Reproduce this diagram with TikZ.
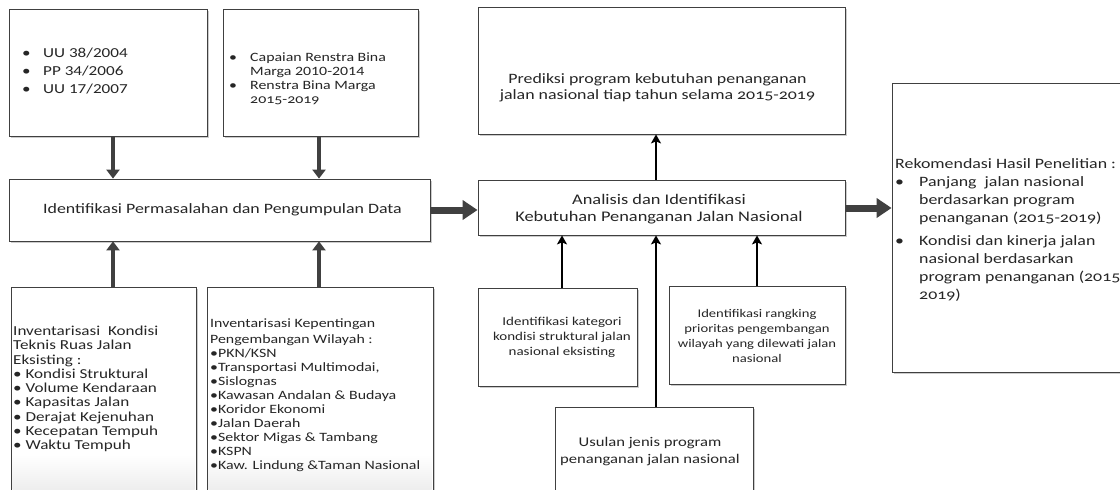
\documentclass[tikz,border=0pt]{standalone}
\usepackage{fontspec}
\setmainfont{Carlito}[FakeStretch=1.25]
\usetikzlibrary{arrows.meta,shadows}
\newcommand\fs[2]{\fontsize{#1}{#2}\selectfont}
\newcommand\osf[1]{{\addfontfeatures{Numbers=OldStyle}#1}}
\newcommand\bl[1]{\makebox[#1][l]{\textbullet}}
\tikzset{
  box/.style={draw=black!75, line width=0.8pt, fill=white, inner sep=0pt,
    drop shadow={shadow xshift=1.5pt, shadow yshift=-1.5pt, fill=black!20, opacity=1}},
  txt/.style={inner sep=0pt, text=black!85},
  garrow/.style={draw=black!75, line width=4pt, -{Triangle[width=13pt,length=9pt]}},
  bigarrow/.style={draw=black!75, line width=7pt, -{Triangle[width=19pt,length=15pt]}},
  barrow/.style={draw=black, line width=2.5pt, -{Stealth[width=10pt,length=9pt,inset=2pt]}},
}
\begin{document}
\begin{tikzpicture}[x=1pt,y=-1pt]
\useasboundingbox (0,0) rectangle (1120,490);
\clip (0,0) rectangle (1120,490);
\fill[white] (0,0) rectangle (1120,490);
% boxes
\node[box, minimum width=198pt, minimum height=127pt] (uu) at (108,72.5) {};
\node[box, minimum width=195pt, minimum height=127pt] (ren) at (320.5,72.5) {};
\node[box, minimum width=421pt, minimum height=62pt] (ident) at (219.5,210) {};
\node[box, minimum width=185pt, minimum height=210pt] (invk) at (103.5,392) {};
\node[box, minimum width=226pt, minimum height=216pt] (invw) at (320,395) {};
\node[box, minimum width=367pt, minimum height=127pt] (pred) at (661.5,70.5) {};
\node[box, minimum width=367pt, minimum height=55pt] (anal) at (661.5,207.5) {};
\node[box, minimum width=159pt, minimum height=98pt] (kat) at (557.5,337) {};
\node[box, minimum width=176pt, minimum height=98pt] (rang) at (757,335) {};
\node[box, minimum width=198pt, minimum height=100pt] (usul) at (654,457) {};
\node[box, minimum width=250pt, minimum height=289pt] (rek) at (1017,227.5) {};
% faint fades at bottom of lower-left boxes
\shade[top color=white, bottom color=black!7] (12.5,455) rectangle (194.5,490);
\shade[top color=white, bottom color=black!7] (208.5,455) rectangle (431.5,490);
% texts
\node[txt, anchor=west, align=left, font=\fs{13.7}{18}] (uut) at (22,71)
  {\bl{21pt}UU 38/2004\\\bl{21pt}PP 34/2006\\\bl{21pt}UU 17/2007};
\node[txt, anchor=west, align=left, font=\fs{12.7}{14.5}] (rent) at (229,79)
  {\bl{21pt}Capaian Renstra Bina\\\hspace*{21pt}Marga 2010-2014\\[-1pt]\bl{21pt}Renstra Bina Marga\\\hspace*{21pt}\osf{2015-2019}};
\node[txt, font=\fs{14.3}{17}] (identt) at (222.5,210) {Identifikasi Permasalahan dan Pengumpulan Data};
\node[txt, anchor=west, align=left, font=\fs{13.7}{14.3}] (invkt) at (13,389)
  {Inventarisasi\ \ Kondisi\\Teknis Ruas Jalan\\Eksisting :\\\textbullet\ Kondisi Struktural\\\textbullet\ Volume Kendaraan\\\textbullet\ Kapasitas Jalan\\\textbullet\ Derajat Kejenuhan\\\textbullet\ Kecepatan Tempuh\\\textbullet\ Waktu Tempuh};
\node[txt, anchor=west, align=left, font=\fs{12.7}{14}] (invwt) at (210,395)
  {Inventarisasi Kepentingan\\[2.5pt]Pengembangan Wilayah :\\\textbullet PKN/KSN\\\textbullet Transportasi Multimodai,\\\textbullet Sislognas\\\textbullet Kawasan Andalan \& Budaya\\\textbullet Koridor Ekonomi\\\textbullet Jalan Daerah\\\textbullet Sektor Migas \& Tambang\\\textbullet KSPN\\\textbullet Kaw. Lindung \&Taman Nasional};
\node[txt, align=center, font=\fs{14.3}{15.7}] (predt) at (657.5,88)
  {Prediksi program kebutuhan penanganan\\jalan nasional tiap tahun selama \osf{2015-2019}};
\node[txt, align=center, font=\fs{14.7}{17}] (analt) at (659,209)
  {Analisis dan Identifikasi\\Kebutuhan Penanganan Jalan Nasional};
\node[txt, align=center, font=\fs{12}{15}] (katt) at (562,337)
  {Identifikasi kategori\\kondisi struktural jalan\\nasional eksisting};
\node[txt, align=center, font=\fs{11.7}{15}] (rangt) at (757,336)
  {Identifikasi rangking\\prioritas pengembangan\\wilayah yang dilewati jalan\\nasional};
\node[txt, align=center, font=\fs{13.3}{17}] (usult) at (650,452)
  {Usulan jenis program\\penanganan jalan nasional};
\node[txt, anchor=west, align=left, font=\fs{14.3}{17.8}] (rekt) at (895,230)
  {Rekomendasi Hasil Penelitian :\\
   \bl{24pt}Panjang\ \ jalan nasional\\\hspace*{24pt}berdasarkan program\\\hspace*{24pt}penanganan (\osf{2015-2019})\\[6pt]
   \bl{24pt}Kondisi dan kinerja jalan\\\hspace*{24pt}nasional berdasarkan\\\hspace*{24pt}program penanganan (\osf{2015-}\\\hspace*{24pt}\osf{2019})};
% connectors
\coordinate (xa) at (113,0);
\coordinate (xb) at (319,0);
\coordinate (xc) at (656,0);
\coordinate (xd) at (562,0);
\coordinate (xe) at (757,0);
\coordinate (ya) at (0,210);
\coordinate (yb) at (0,208);
\draw[garrow] (uu.south -| xa) -- (ident.north -| xa);
\draw[garrow] (ren.south -| xb) -- (ident.north -| xb);
\draw[garrow] (invk.north -| xa) -- (ident.south -| xa);
\draw[garrow] (invw.north -| xb) -- (ident.south -| xb);
\draw[bigarrow] (ident.east |- ya) -- (anal.west |- ya);
\draw[bigarrow] (anal.east |- yb) -- (rek.west |- yb);
\draw[barrow] (anal.north -| xc) -- (pred.south -| xc);
\draw[barrow] (kat.north -| xd) -- (anal.south -| xd);
\draw[barrow] (rang.north -| xe) -- (anal.south -| xe);
\draw[barrow] (usul.north -| xc) -- (anal.south -| xc);
\end{tikzpicture}
\end{document}
